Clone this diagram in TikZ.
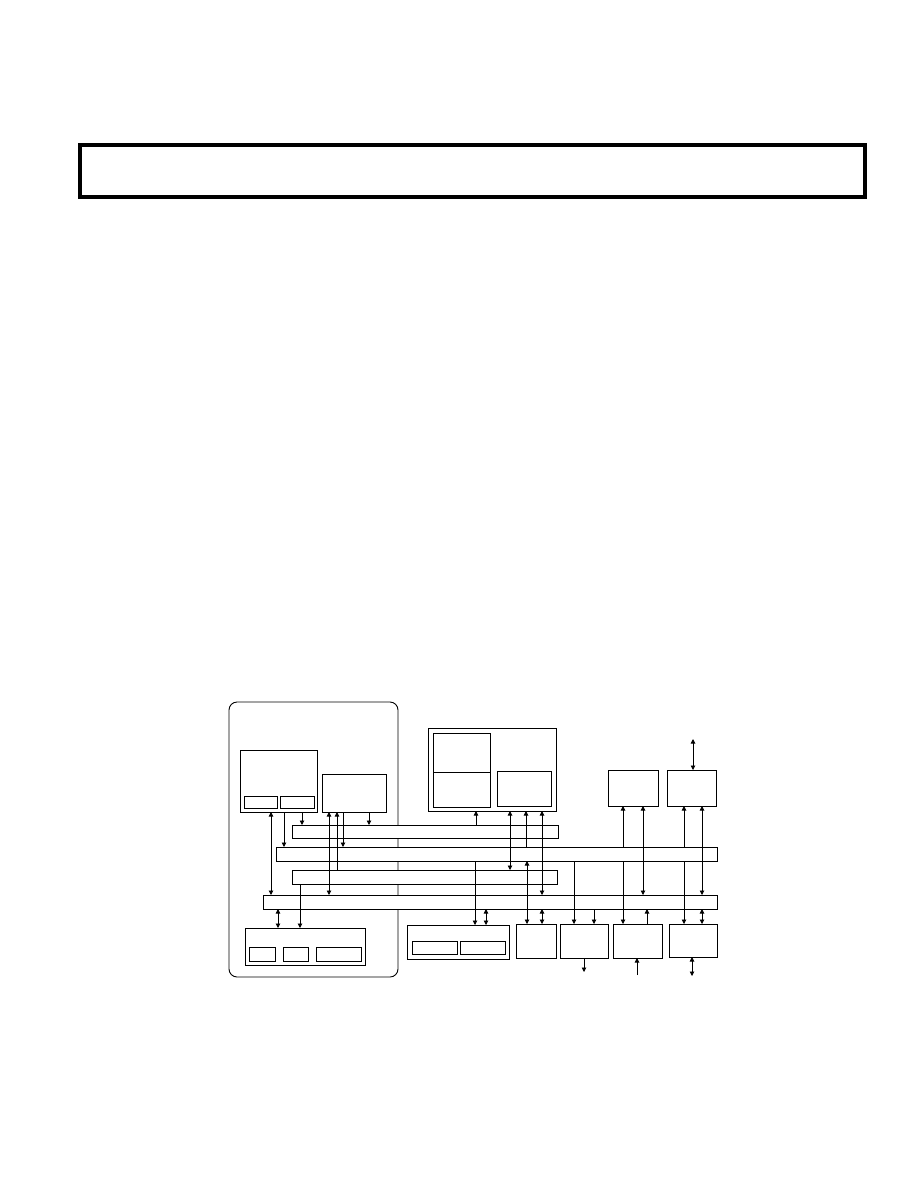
\documentclass[tikz,border=0pt]{standalone}
\usetikzlibrary{arrows.meta}

\tikzset{
	blk/.style={draw, anchor=north west, inner sep=0pt, outer sep=0pt},
	bus/.style={blk, fill=white},
	link/.style={line width=0.9pt}
}

\begin{document}
\begin{tikzpicture}[x=1pt, y=-1pt, line width=0.9pt, >={Triangle[length=4.5pt,width=4.5pt]}]

		\useasboundingbox (0,0) rectangle (918,1188);

		% Header
		\node[blk, line width=3.5pt, minimum width=785pt, minimum height=52pt] (header) at (80,145) {};

		% Left module
		\begin{scope}
			\draw[rounded corners=8pt] (229,702) rectangle (398,977);
			\node[blk, minimum width=77pt, minimum height=62pt] (cpu) at (240,750) {};
			\node[blk, minimum width=33pt, minimum height=12pt] (cpuA) at (244,796) {};
			\node[blk, minimum width=34pt, minimum height=12pt] (cpuB) at (280,796) {};
			\node[blk, minimum width=64pt, minimum height=38pt] (ctl) at (322,774) {};
			\node[blk, minimum width=120pt, minimum height=37pt] (mem) at (245,928) {};
			\node[blk, minimum width=26pt, minimum height=14pt] (memA) at (249,947) {};
			\node[blk, minimum width=25pt, minimum height=14pt] (memB) at (283,947) {};
			\node[blk, minimum width=45pt, minimum height=14pt] (memC) at (316,947) {};
		\end{scope}

		% Buses
		\node[bus, minimum width=266pt, minimum height=13pt] (busA) at (292,825) {};
		\node[bus, minimum width=441pt, minimum height=14pt] (busB) at (276,847) {};
		\node[bus, minimum width=265pt, minimum height=14pt] (busC) at (292,870) {};
		\node[bus, minimum width=454pt, minimum height=14pt] (busD) at (263,895) {};

		% Upper units
		\begin{scope}
			\node[blk, minimum width=128pt, minimum height=83pt] (gfx) at (428,728) {};
			\node[blk, minimum width=57pt, minimum height=39pt] (gfxA) at (433,733) {};
			\node[blk, minimum width=57pt, minimum height=35pt] (gfxB) at (433,772) {};
			\node[blk, minimum width=54pt, minimum height=35pt] (gfxC) at (497,771) {};
			\node[blk, minimum width=50pt, minimum height=36pt] (ioA) at (608,770) {};
			\node[blk, minimum width=49pt, minimum height=36pt] (ioB) at (667,770) {};
			\coordinate (ioBtop) at (693,739);
		\end{scope}

		% Lower units
		\begin{scope}
			\node[blk, minimum width=102pt, minimum height=34pt] (dsk) at (407,925) {};
			\node[blk, minimum width=45pt, minimum height=13pt] (dskA) at (412,941) {};
			\node[blk, minimum width=45pt, minimum height=13pt] (dskB) at (460,941) {};
			\node[blk, minimum width=40pt, minimum height=34pt] (unF) at (516,924) {};
			\node[blk, minimum width=48pt, minimum height=34pt] (unG) at (560,924) {};
			\node[blk, minimum width=49pt, minimum height=34pt] (unH) at (613,924) {};
			\node[blk, minimum width=48pt, minimum height=33pt] (unI) at (669,924) {};
			\coordinate (unGout) at (584,972);
			\coordinate (unHin) at (637,975);
			\coordinate (unIout) at (692,976);
		\end{scope}

		% Left module links
		\draw[<->] (271,0 |- cpu.south) -- (271,0 |- busD.north);
		\draw[->] (284,0 |- cpu.south) -- (284,0 |- busB.north);
		\draw[->] (302,0 |- cpu.south) -- (302,0 |- busA.north);
		\draw[<->] (329,0 |- ctl.south) -- (329,0 |- busD.north);
		\draw[->] (337,0 |- busC.north) -- (337,0 |- ctl.south);
		\draw[->] (343,0 |- ctl.south) -- (343,0 |- busB.north);
		\draw[->] (369,0 |- ctl.south) -- (369,0 |- busA.north);
		\draw[<->] (278,0 |- busD.south) -- (278,0 |- mem.north);
		\draw[->] (300,0 |- busC.south) -- (300,0 |- mem.north);

		% Graphics unit links
		\draw[->] (476,0 |- busA.north) -- (476,0 |- gfx.south);
		\draw[<->] (510,0 |- gfx.south) -- (510,0 |- busC.north);
		\draw[->] (526,0 |- busB.north) -- (526,0 |- gfx.south);
		\draw[<->] (542,0 |- gfx.south) -- (542,0 |- busD.north);

		% Lower unit links
		\draw[->] (475,0 |- busB.south) -- (475,0 |- dsk.north);
		\draw[<->] (486,0 |- busD.south) -- (486,0 |- dsk.north);
		\draw[<->] (527,0 |- busB.south) -- (527,0 |- unF.north);
		\draw[<->] (542,0 |- busD.south) -- (542,0 |- unF.north);
		\draw[->] (574,0 |- busB.south) -- (574,0 |- unG.north);
		\draw[->] (594,0 |- busD.south) -- (594,0 |- unG.north);
		\draw[->] (584,0 |- unG.south) -- (unGout);
		\draw[->] (623,0 |- busB.south) -- (623,0 |- unH.north);
		\draw[->] (647,0 |- unH.north) -- (647,0 |- busD.south);
		\draw[->] (unHin) -- (637,0 |- unH.south);
		\draw[->] (684,0 |- busB.south) -- (684,0 |- unI.north);
		\draw[<->] (702,0 |- busD.south) -- (702,0 |- unI.north);
		\draw[<->] (692,0 |- unI.south) -- (unIout);

		% I/O unit links
		\draw[->] (623,0 |- busB.north) -- (623,0 |- ioA.south);
		\draw[<->] (643,0 |- ioA.south) -- (643,0 |- busD.north);
		\draw[->] (684,0 |- busB.north) -- (684,0 |- ioB.south);
		\draw[<->] (702,0 |- ioB.south) -- (702,0 |- busD.north);
		\draw[<->] (ioBtop) -- (693,0 |- ioB.north);

	\end{tikzpicture}
\end{document}
